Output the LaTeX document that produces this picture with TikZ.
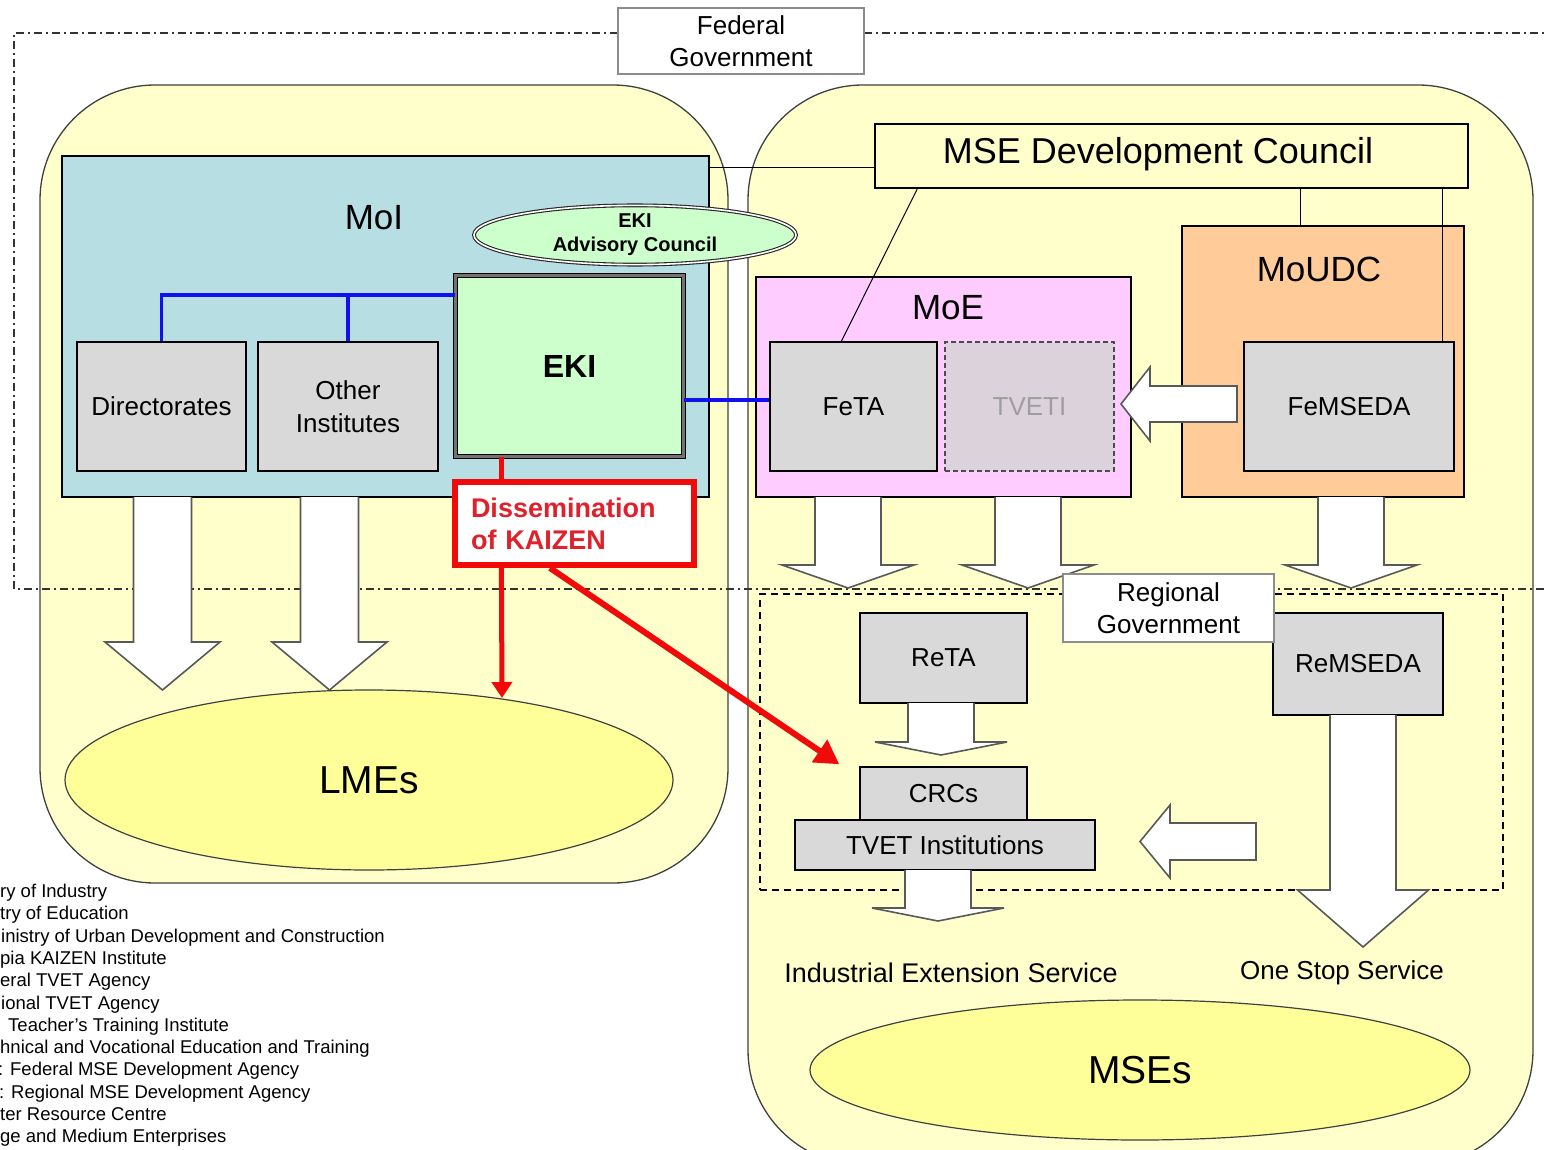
\documentclass[tikz,border=0pt]{standalone}
\usepackage{fontspec}
\setmainfont{Liberation Sans}
\usetikzlibrary{calc,arrows.meta,shapes.geometric}
\definecolor{bgyellow}{HTML}{FFFFCC}
\definecolor{moiblue}{HTML}{B7DEE3}
\definecolor{ekigreen}{HTML}{CCFFCC}
\definecolor{moepink}{HTML}{FFCCFF}
\definecolor{moudcor}{HTML}{FFCC99}
\definecolor{boxgray}{HTML}{D9D9D9}
\definecolor{tvetifill}{HTML}{DCD2DC}
\definecolor{entyellow}{HTML}{FFFF99}
\definecolor{kred}{HTML}{F00A0A}
\definecolor{kredtext}{HTML}{E0202A}
\definecolor{kblue}{HTML}{1010F0}
\definecolor{edgegray}{HTML}{404040}
\newcommand\myfs[2]{\fontsize{#1}{#2}\selectfont}
\newcommand\blkdown[6]{\draw[blockarrow] ({#1-#5},#2) -- ({#1-#5},#3) -- ({#1-#6},#3) -- (#1,#4) -- ({#1+#6},#3) -- ({#1+#5},#3) -- ({#1+#5},#2);}
\newcommand\blkleft[6]{\draw[blockarrow] (#2,{#1-#5}) -- (#3,{#1-#5}) -- (#3,{#1-#6}) -- (#4,#1) -- (#3,{#1+#6}) -- (#3,{#1+#5}) -- (#2,{#1+#5}) -- cycle;}
\begin{document}
\begin{tikzpicture}[x=1pt,y=-1pt,
  area/.style={draw=edgegray, line width=1.3pt, fill=bgyellow, rounded corners=115pt, inner sep=0pt},
  org/.style={draw=black, line width=1.3pt, inner sep=0pt},
  gbox/.style={draw=black, line width=1.3pt, fill=boxgray, inner sep=0pt, align=center, font={\myfs{26}{33}}},
  govbox/.style={draw=black!45, line width=1.2pt, fill=white, inner sep=0pt, align=center, font={\myfs{26}{31.5}}},
  bigtxt/.style={font={\myfs{35}{40}}, inner sep=0pt},
  thin/.style={draw=black, line width=1pt},
  blueline/.style={draw=kblue, line width=3.2pt},
  redline/.style={draw=kred, line width=5pt},
  blockarrow/.style={fill=white, draw=black!65, line width=1.6pt, line join=miter},
  legend/.style={anchor=base west, inner sep=0pt, font={\myfs{18.5}{22}}},
  fedline/.style={draw=black!80, line width=1.1pt, dash pattern=on 8pt off 4pt on 2pt off 4pt},
  entity/.style={ellipse, draw=edgegray, line width=1.2pt, fill=entyellow, inner sep=0pt, font={\myfs{39}{44}}},
]
\useasboundingbox (0,0) rectangle (1547,1150);
% ---------- areas
\node[area, minimum width=688pt, minimum height=798pt] (leftarea) at (384,484) {};
\node[area, minimum width=785pt, minimum height=1080pt] (rightarea) at (1140.5,625) {};
% ---------- government boundaries
\draw[fedline] (618,33) -- (14,33) -- (14,589) -- (1560,589);
\draw[fedline] (864,33) -- (1560,33);
\node[draw=black, line width=1.3pt, dash pattern=on 7pt off 5pt, minimum width=743pt, minimum height=296pt, inner sep=0pt] (regionbox) at (1131.5,742) {};
% ---------- organisations
\node[org, fill=moiblue, minimum width=647pt, minimum height=341pt] (MoI) at (385.5,326.5) {};
\node[org, fill=moepink, minimum width=375pt, minimum height=220pt] (MoE) at (943.5,387) {};
\node[org, fill=moudcor, minimum width=282pt, minimum height=271pt] (MoUDC) at (1323,361.5) {};
\node[org, fill=bgyellow, minimum width=593pt, minimum height=64pt] (council) at (1171.5,156) {};
\node[bigtxt] (MoIlabel) at (374,218) {MoI};
\node[bigtxt] (MoElabel) at (948,308) {MoE};
\node[bigtxt] (MoUDClabel) at (1319,269) {MoUDC};
\node[inner sep=0pt, font={\myfs{36}{40}}] (councillabel) at (1158,154) {MSE Development Council};
% ---------- inner boxes
\node[gbox, minimum width=169pt, minimum height=129pt] (dirs) at (161.5,406.5) {Directorates};
\node[gbox, minimum width=180pt, minimum height=129pt] (others) at (348,406.5) {Other\\Institutes};
\node[gbox, minimum width=167pt, minimum height=129pt] (FeTA) at (853.5,406.5) {FeTA};
\node[gbox, fill=tvetifill, draw=black!70, dash pattern=on 5pt off 3pt, text=black!38, minimum width=169pt, minimum height=129pt] (TVETI) at (1029.5,406.5) {TVETI};
\node[gbox, minimum width=210pt, minimum height=129pt] (FeMSEDA) at (1349,406.5) {FeMSEDA};
\node[draw=black, line width=1.2pt, double=black!55, double distance=3pt, fill=ekigreen, minimum width=228pt, minimum height=181pt, inner sep=0pt, font={\myfs{32}{36}\bfseries}] (EKI) at (569.5,366) {EKI};
% ---------- council connections
\coordinate (liney) at (0,168);
\draw[thin] (MoI.north east |- liney) -- (council.west |- liney);
\draw[thin] ($(council.south west)+(43,0)$) -- ($(FeTA.north west)+(72,0)$);
\coordinate (cmoudc) at ($(council.south west)+(426,0)$);
\draw[thin] (cmoudc) -- (cmoudc |- MoUDC.north);
\coordinate (cfemseda) at ($(council.south east)+(-26,0)$);
\draw[thin] (cfemseda) -- (cfemseda |- FeMSEDA.north);
% ---------- blue links
\coordinate (bluebar) at (0,295);
\coordinate (bluey) at (0,400);
\draw[blueline] (dirs.north) |- (EKI.west |- bluebar);
\draw[blueline] (others.north) -- (others.north |- bluebar);
\draw[blueline] (EKI.east |- bluey) -- (FeTA.west |- bluey);
% ---------- advisory council
\node[ellipse, draw=black!85, line width=1.1pt, double=white, double distance=1.6pt, fill=ekigreen, minimum width=322pt, minimum height=58pt, inner sep=0pt, align=center, font={\myfs{20}{24}\bfseries}] (advisory) at (635,235) {EKI\\Advisory Council};
% ---------- regional boxes
\node[gbox, minimum width=167pt, minimum height=90pt] (ReTA) at (943.5,658) {ReTA};
\node[gbox, minimum width=167pt, minimum height=53pt] (CRCs) at (943.5,793.5) {CRCs};
\node[gbox, minimum width=300pt, minimum height=50pt] (TVETinst) at (945,845) {TVET Institutions};
\node[gbox, minimum width=170pt, minimum height=102pt] (ReMSEDA) at (1358,664) {ReMSEDA};
% ---------- block arrows
\blkdown{162.5}{497}{642}{690}{29}{57.5}
\blkdown{329.5}{497}{642}{690}{29}{57.5}
\blkdown{848}{497}{565}{588}{33}{66}
\blkdown{1028}{497}{565}{588}{33}{66}
\blkdown{1351}{497}{565}{588}{33}{66}
\blkdown{941}{703}{742}{755}{33}{66}
\blkdown{938}{870}{908}{921}{33}{66}
\blkdown{1363}{715}{890}{947}{33}{65.5}
\blkleft{404}{1237}{1150}{1121}{18}{37}
\blkleft{841.5}{1256}{1170}{1140}{18.5}{36.5}
% ---------- government labels
\node[govbox, minimum width=211pt, minimum height=68pt] (regov) at (1168.5,608) {Regional\\Government};
\node[govbox, minimum width=246pt, minimum height=66pt] (fedgov) at (741,41) {Federal\\Government};
% ---------- enterprises
\node[entity, minimum width=608pt, minimum height=180pt] (LMEs) at (369,780) {LMEs};
\node[entity, minimum width=660pt, minimum height=140pt] (MSEs) at (1140,1070) {MSEs};
\node[inner sep=0pt, font={\myfs{27}{30}}] (ies) at (951,973) {Industrial Extension Service};
\node[inner sep=0pt, font={\myfs{26}{30}}] (oss) at (1342,973) {One Stop Service};
% ---------- dissemination of KAIZEN
\node[draw=kred, line width=6pt, fill=white, minimum height=83pt, text width=207pt, inner xsep=16pt, inner ysep=0pt, align=left, text=kredtext, font={\myfs{27}{32}\bfseries}] (diss) at (574.5,523.5) {Dissemination\\of KAIZEN};
\coordinate (rx) at ($(EKI.south west)+(46.5,0)$);
\draw[redline] (rx) -- (rx |- diss.north);
\coordinate (lmetop) at (502,698);
\draw[redline, -{Triangle[width=20pt,length=16pt]}] (rx |- diss.south) -- (lmetop);
\coordinate (crcin) at ($(CRCs.north west)+(-20,-2)$);
\draw[redline, line width=6pt, -{Triangle[width=26pt,length=24pt]}] ($(diss.south west)+(98,0)$) -- (crcin);
% ---------- legend
\node[legend] (lg1) at (0,897.5) {ry of Industry};
\node[legend] (lg2) at (0,919.8) {try of Education};
\node[legend] (lg3) at (1,942.1) {inistry of Urban Development and Construction};
\node[legend] (lg4) at (0,964.4) {pia KAIZEN Institute};
\node[legend] (lg5) at (0,986.7) {eral TVET Agency};
\node[legend] (lg6) at (1,1009) {ional TVET Agency};
\node[legend] (lg7) at (8,1031.3) {Teacher’s Training Institute};
\node[legend] (lg8) at (0,1053.6) {hnical and Vocational Education and Training};
\node[legend] (lg9) at (-2,1075.9) {: Federal MSE Development Agency};
\node[legend] (lg10) at (-1,1098.2) {: Regional MSE Development Agency};
\node[legend] (lg11) at (0,1120.5) {ter Resource Centre};
\node[legend] (lg12) at (0,1142.8) {ge and Medium Enterprises};
\end{tikzpicture}
\end{document}
